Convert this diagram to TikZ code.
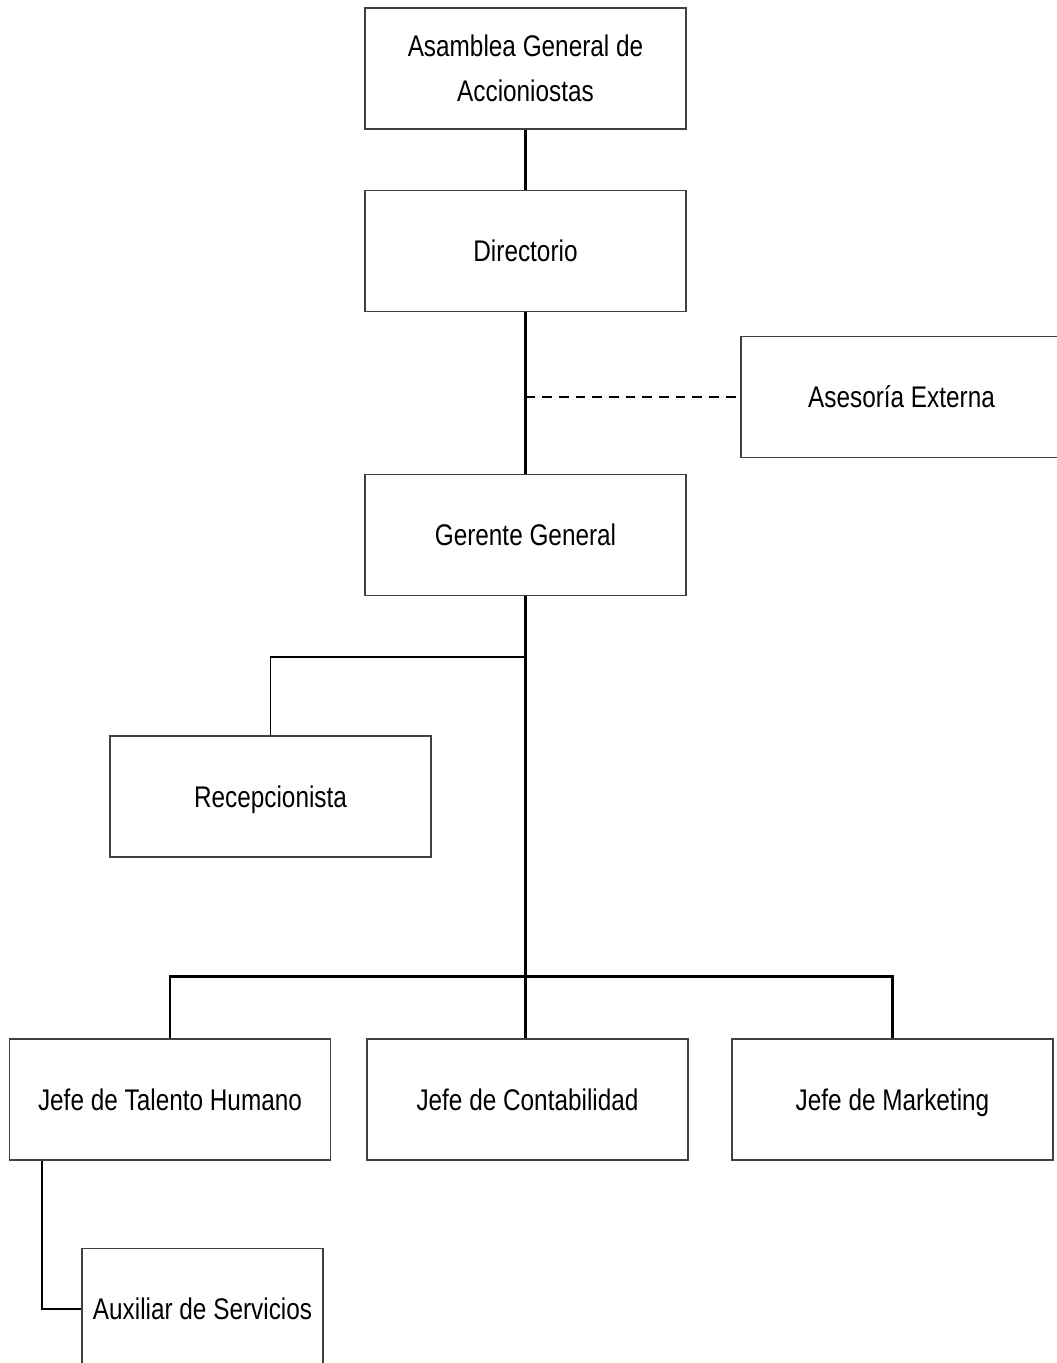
\documentclass[tikz,border=0pt]{standalone}
\usepackage{fontspec}
\setmainfont{Liberation Sans}[FakeStretch=0.815]
\usetikzlibrary{positioning}

\tikzset{
  cargo/.style={draw=black!75, line width=0.6pt, minimum width=6.42cm, minimum height=2.42cm,
    inner sep=0pt, align=center, text height=12.2pt, text depth=0pt,
    font=\fontsize{17}{25.5}\selectfont},
  linea/.style={line width=1.7pt},
  lineafina/.style={line width=1.1pt},
  asesor/.style={line width=0.8pt, dash pattern=on 5.5pt off 4pt}
}

\begin{document}
\begin{tikzpicture}
\useasboundingbox (0,0) rectangle (21.14,27.26);
\clip (0,0) rectangle (21.14,27.26);
% cargos
\node[cargo, text height=37.7pt] (asamblea) at (10.51,25.89) {Asamblea General de\\Accioniostas};
\node[cargo] (directorio) at (10.51,22.24) {Directorio};
\node[cargo] (asesoria) at (18.03,19.32) {Asesoría Externa};
\node[cargo] (gerente) at (10.51,16.56) {Gerente General};
\node[cargo] (recep) at (5.41,11.33) {Recepcionista};
\node[cargo] (jefeTH) at (3.40,5.27) {Jefe de Talento Humano};
\node[cargo] (contab) at (10.55,5.27) {Jefe de Contabilidad};
\node[cargo] (marketing) at (17.85,5.27) {Jefe de Marketing};
\node[cargo, minimum width=4.82cm] (auxiliar) at (4.05,1.08) {Auxiliar de Servicios};
% puntos de quiebre
\coordinate (rama) at (0,14.12);
\coordinate (bus) at (0,7.72);
\coordinate (baja) at (0.84,0);
% lineas de mando
\draw[linea] (asamblea) -- (directorio);
\draw[linea] (directorio) -- (gerente);
\draw[asesor] (directorio.south |- asesoria.west) -- (asesoria.west);
\draw[linea] (gerente.south) -- (gerente.south |- contab.north);
\draw[lineafina] (gerente.south |- rama) -| (recep.north);
\draw[linea] (jefeTH.north) |- (marketing.north |- bus) -- (marketing.north);
\draw[linea] (jefeTH.south -| baja) |- (auxiliar.west);
\end{tikzpicture}
\end{document}
